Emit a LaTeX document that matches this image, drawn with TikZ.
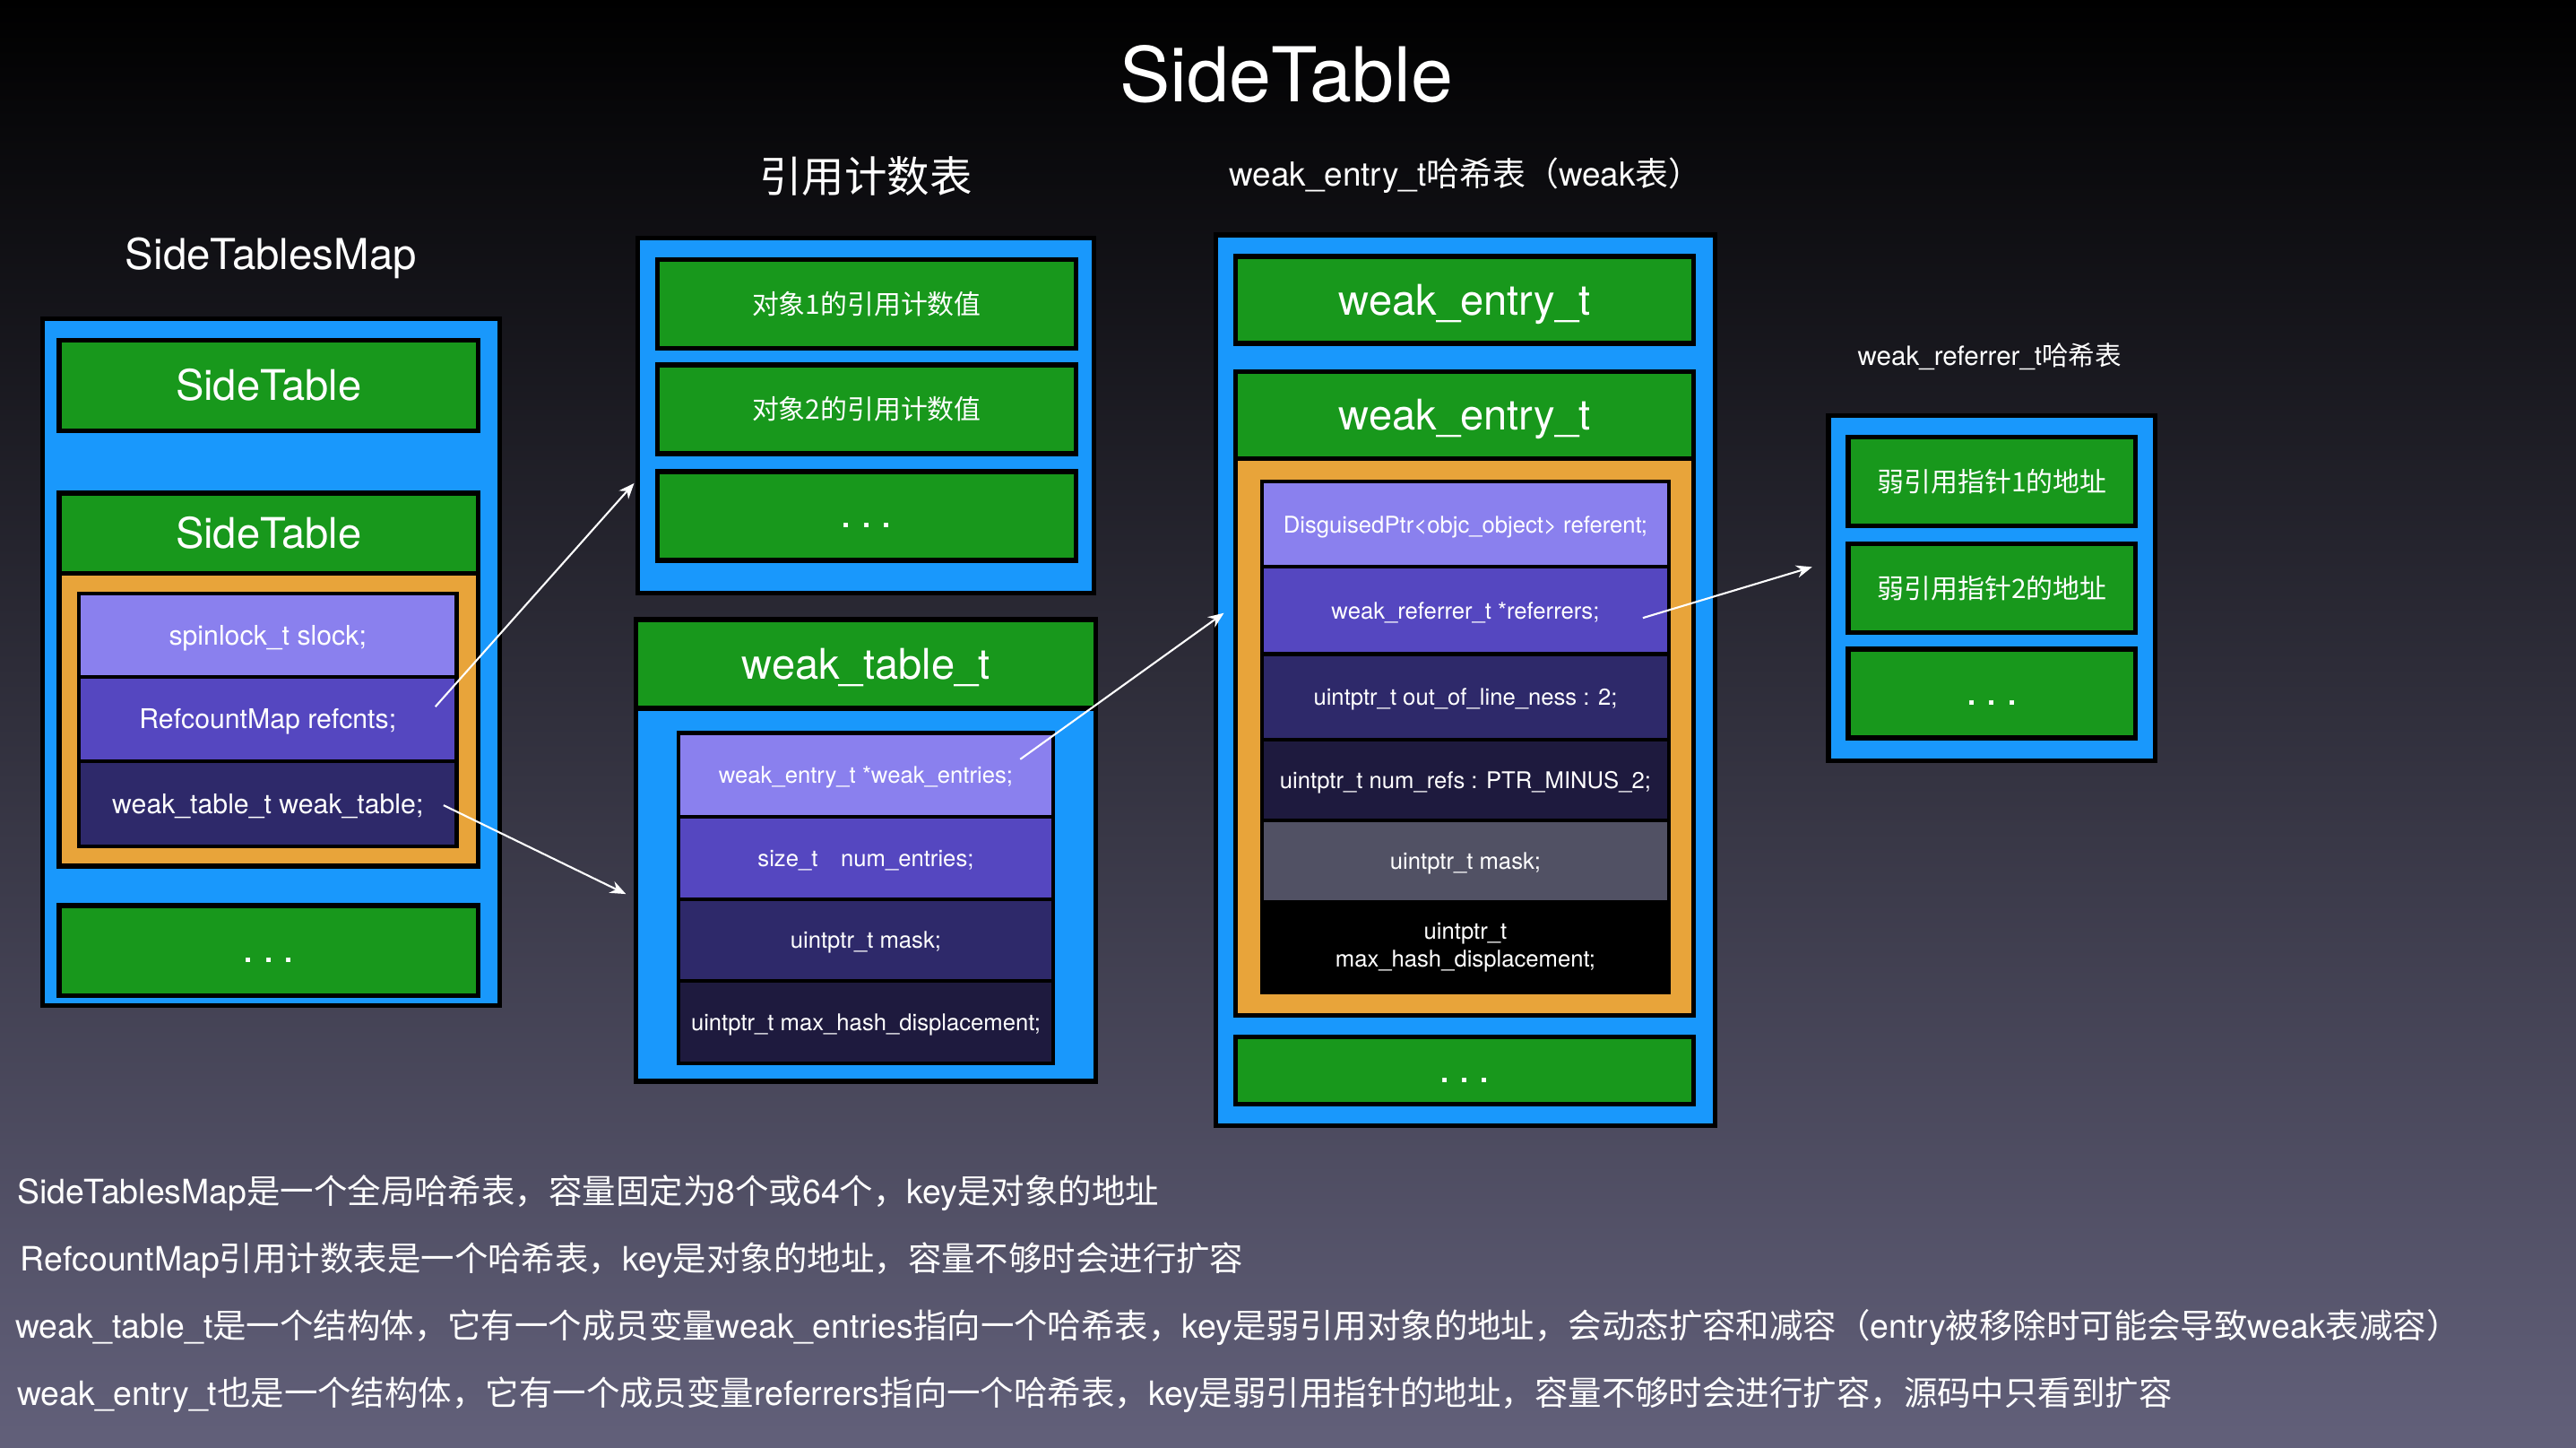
\documentclass[tikz,border=0pt]{standalone}
\usepackage{fontspec}
\setmainfont{TeX Gyre Heros}
\newfontfamily\cjk{Noto Sans CJK SC}
\usetikzlibrary{arrows.meta}

\newlength{\pu}
\setlength{\pu}{0.018329cm}

\definecolor{tblue}{RGB}{25,152,252}
\definecolor{tgreen}{RGB}{24,152,28}
\definecolor{torange}{RGB}{232,164,58}
\definecolor{rowA}{RGB}{138,128,238}
\definecolor{rowB}{RGB}{85,71,192}
\definecolor{rowC}{RGB}{46,41,106}
\definecolor{rowD}{RGB}{30,26,62}
\definecolor{rowE}{RGB}{81,81,100}
\definecolor{bgmiddle}{RGB}{28,28,46}
\definecolor{bgbottom}{RGB}{98,96,122}

\tikzset{
  sz/.style 2 args={minimum width=#1*\pu, minimum height=#2*\pu},
  frame/.style={draw=black, line width=1.5pt, inner sep=0pt},
  bluebox/.style={frame, fill=tblue},
  greenbox/.style={frame, fill=tgreen, text=white},
  orangebox/.style={frame, fill=torange},
  rowbox/.style={frame, line width=1.2pt, text=white, align=center},
  titletext/.style={text=white, font=\fontsize{24}{28}\selectfont},
  headtext/.style={text=white, font=\fontsize{13.5}{16}\selectfont},
  bigfont/.style={font=\fontsize{13.4}{16}\selectfont, text height=9.6pt, text depth=0pt},
  dotsfont/.style={font=\fontsize{13.4}{16}\selectfont, text height=7.3pt, text depth=0pt},
  leftfont/.style={font=\fontsize{8.6}{10}\selectfont, text height=6.2pt, text depth=0pt},
  cellfont/.style={font=\fontsize{8.5}{10}\selectfont},
  rowfont/.style={font=\fontsize{7.3}{9}\selectfont, text height=5.3pt, text depth=0pt},
  notetext/.style={text=white, anchor=west, inner sep=0pt, font=\fontsize{10.65}{13}\selectfont},
  arrowline/.style={draw=white, line width=0.6pt},
}

\newcommand{\threedots}{.\hspace{0.2em}.\hspace{0.2em}.}

\begin{document}
\begin{tikzpicture}[x=0.018329cm, y=-0.018329cm, >={Stealth[length=5pt,width=4pt]}]
\shade[top color=black, middle color=bgmiddle, bottom color=bgbottom] (0,0) rectangle (1568,880.6);
\useasboundingbox (0,0) rectangle (1568,880.6);

\node[titletext] (title) at (783,45) {SideTable};
\node[headtext] (mapTitle) at (165,157) {SideTablesMap};
\node[headtext] (countTitle) at (527,107) {\cjk 引用计数表};
\node[text=white, font=\fontsize{10.5}{12}\selectfont] (entryTitle) at (892,107) {weak\_entry\_t{\cjk 哈希表（}weak{\cjk 表）}};
\node[text=white, font=\fontsize{8.4}{10}\selectfont] (refTitle) at (1211,217) {weak\_referrer\_t{\cjk 哈希表}};

% SideTablesMap
\node[bluebox, sz={278}{418}] (map) at (165,403) {};
\node[greenbox, bigfont, sz={255}{55}] (st1) at (163.5,234.5) {SideTable};
\node[orangebox, sz={255}{178}] (st2body) at (163.5,438) {};
\node[greenbox, bigfont, sz={255}{49}] (st2) at (163.5,324.5) {SideTable};
\node[rowbox, fill=rowA, leftfont, sz={230}{51}] (slock) at (163,386.5) {spinlock\_t slock;};
\node[rowbox, fill=rowB, leftfont, sz={230}{51}] (refcnts) at (163,437.5) {RefcountMap refcnts;};
\node[rowbox, fill=rowC, leftfont, sz={230}{52}] (weakTab) at (163,489) {weak\_table\_t weak\_table;};
\node[greenbox, dotsfont, sz={255}{55}] (mapDots) at (163.5,578.5) {\threedots};

% refcount table
\node[bluebox, sz={278}{216}] (count) at (527,253) {};
\node[greenbox, cellfont, sz={255}{54}] (cnt1) at (527.5,185) {\cjk 对象1的引用计数值};
\node[greenbox, cellfont, sz={255}{54}] (cnt2) at (527.5,249) {\cjk 对象2的引用计数值};
\node[greenbox, dotsfont, sz={255}{54}] (cntDots) at (527.5,314) {\threedots};

% weak_table_t
\node[bluebox, sz={280}{281}] (weakTable) at (527,517.5) {};
\node[greenbox, bigfont, sz={280}{54}] (wtHead) at (527,404) {weak\_table\_t};
\node[rowbox, fill=rowA, rowfont, sz={228}{51}] (wtEntries) at (527,471.5) {weak\_entry\_t *weak\_entries;};
\node[rowbox, fill=rowB, rowfont, sz={228}{50}] (wtNum) at (527,522) {size\_t\quad num\_entries;};
\node[rowbox, fill=rowC, rowfont, sz={228}{50}] (wtMask) at (527,572) {uintptr\_t mask;};
\node[rowbox, fill=rowD, rowfont, sz={228}{50}] (wtDisp) at (527,622) {uintptr\_t max\_hash\_displacement;};

% weak_entry_t table
\node[bluebox, sz={304}{542}] (entries) at (892,414) {};
\node[greenbox, bigfont, sz={279}{53}] (ent1) at (891.5,182.5) {weak\_entry\_t};
\node[orangebox, sz={279}{339}] (entBody) at (891.5,448.5) {};
\node[greenbox, bigfont, sz={279}{53}] (ent2) at (891.5,252.5) {weak\_entry\_t};
\node[rowbox, fill=rowA, rowfont, sz={248}{52}] (entReferent) at (892,319) {DisguisedPtr<objc\_object> referent;};
\node[rowbox, fill=rowB, rowfont, sz={248}{53}] (entReferrers) at (892,371.5) {weak\_referrer\_t *referrers;};
\node[rowbox, fill=rowC, rowfont, sz={248}{52}] (entLine) at (892,424) {uintptr\_t out\_of\_line\_ness : 2;};
\node[rowbox, fill=rowD, rowfont, sz={248}{49}] (entRefs) at (892,474.5) {uintptr\_t num\_refs : PTR\_MINUS\_2;};
\node[rowbox, fill=rowE, rowfont, sz={248}{50}] (entMask) at (892,524) {uintptr\_t mask;};
\node[rowbox, fill=black, font=\fontsize{7.3}{9}\selectfont, sz={248}{55}] (entDisp) at (892,576.5) {uintptr\_t\\max\_hash\_displacement;};
\node[greenbox, dotsfont, sz={279}{41}] (entDots) at (891.5,651.5) {\threedots};

% weak_referrer_t table
\node[bluebox, sz={199}{210}] (referrers) at (1212.5,358) {};
\node[greenbox, cellfont, sz={175}{54}] (ref1) at (1212.5,293) {\cjk 弱引用指针1的地址};
\node[greenbox, cellfont, sz={175}{54}] (ref2) at (1212.5,358) {\cjk 弱引用指针2的地址};
\node[greenbox, dotsfont, sz={175}{54}] (refDots) at (1212.5,422) {\threedots};

% arrows
\coordinate (refcntsOut) at (265,430);
\coordinate (countIn) at (386,294);
\coordinate (weakTabOut) at (270,490);
\coordinate (weakTableIn) at (381,544);
\coordinate (entriesOut) at (621,462);
\coordinate (entriesIn) at (745,373);
\coordinate (referrersOut) at (1000,376);
\coordinate (referrersIn) at (1103,345);
\draw[arrowline, ->] (refcntsOut) -- (countIn);
\draw[arrowline, ->] (weakTabOut) -- (weakTableIn);
\draw[arrowline, ->] (entriesOut) -- (entriesIn);
\draw[arrowline, ->] (referrersOut) -- (referrersIn);

% notes
\node[notetext] (note1) at (10,726) {SideTablesMap{\cjk 是一个全局哈希表，容量固定为}8{\cjk 个或}64{\cjk 个，}key{\cjk 是对象的地址}};
\node[notetext] (note2) at (12,767) {RefcountMap{\cjk 引用计数表是一个哈希表，}key{\cjk 是对象的地址，容量不够时会进行扩容}};
\node[notetext] (note3) at (9,808) {weak\_table\_t{\cjk 是一个结构体，它有一个成员变量}weak\_entries{\cjk 指向一个哈希表，}key{\cjk 是弱引用对象的地址，会动态扩容和减容（}entry{\cjk 被移除时可能会导致}weak{\cjk 表减容）}};
\node[notetext] (note4) at (10,849) {weak\_entry\_t{\cjk 也是一个结构体，它有一个成员变量}referrers{\cjk 指向一个哈希表，}key{\cjk 是弱引用指针的地址，容量不够时会进行扩容，源码中只看到扩容}};
\end{tikzpicture}
\end{document}
